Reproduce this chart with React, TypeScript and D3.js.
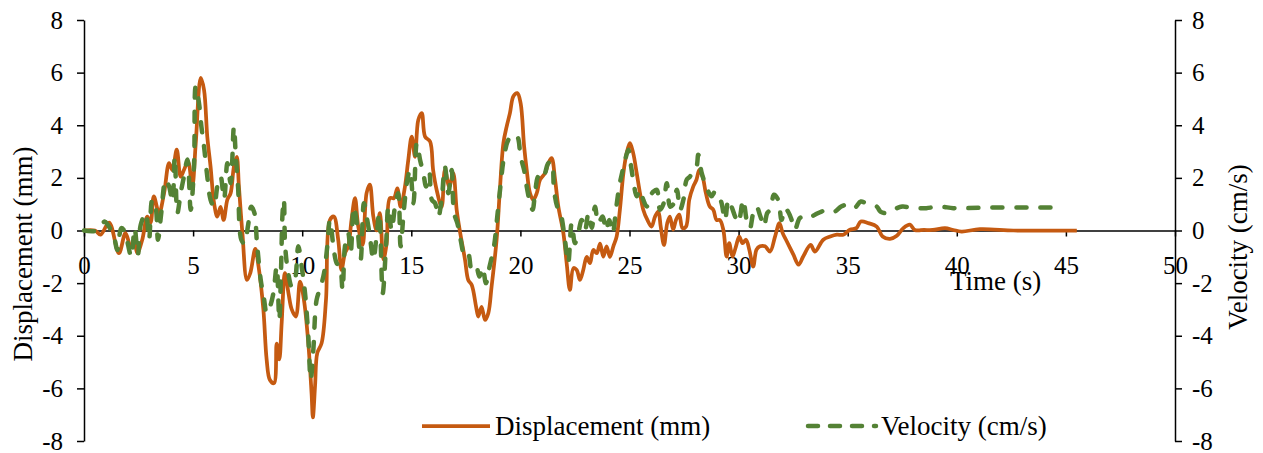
import React, { useEffect, useRef } from 'react';
import * as d3 from 'd3';

// displacement (mm)
const dispTime = [
  0, 0.5, 0.76, 1.15, 1.6, 1.9, 2.14, 2.3, 2.44, 2.67, 2.9, 3.05, 3.2, 3.44, 3.67, 3.9, 4.05, 4.25, 4.43, 4.58,
  4.77, 4.96, 5.12, 5.35, 5.5, 5.65, 5.8, 5.96, 6.11, 6.26, 6.4, 6.57, 6.72, 6.87, 7.0, 7.1, 7.26, 7.47, 7.62, 7.85,
  8.0, 8.22, 8.37, 8.52, 8.71, 8.83, 8.95, 9.06, 9.21, 9.37, 9.52, 9.71, 9.9, 10.08, 10.28, 10.43, 10.49, 10.59, 10.69, 10.89,
  11.09, 11.27, 11.45, 11.65, 11.8, 11.96, 12.11, 12.26, 12.42, 12.57, 12.77, 12.95, 13.1, 13.26, 13.41, 13.56, 13.72, 13.87, 14.02, 14.2,
  14.36, 14.51, 14.71, 14.85, 15.02, 15.17, 15.32, 15.48, 15.63, 15.86, 16.0, 16.16, 16.39, 16.54, 16.74, 16.92, 17.08, 17.23, 17.46, 17.61,
  17.77, 17.97, 18.07, 18.22, 18.38, 18.53, 18.68, 18.91, 19.06, 19.22, 19.37, 19.52, 19.68, 19.86, 20.01, 20.17, 20.29, 20.44, 20.59, 20.75,
  20.9, 21.13, 21.28, 21.43, 21.59, 21.74, 21.97, 22.12, 22.27, 22.43, 22.58, 22.73, 22.88, 23.04, 23.19, 23.34, 23.5, 23.65, 23.8, 23.95,
  24.1, 24.26, 24.41, 24.56, 24.72, 24.87, 25.02, 25.17, 25.33, 25.48, 25.63, 25.82, 26.01, 26.17, 26.32, 26.43, 26.58, 26.73, 26.85, 27.0,
  27.13, 27.28, 27.43, 27.59, 27.74, 27.92, 28.07, 28.2, 28.35, 28.5, 28.68, 28.84, 28.99, 29.14, 29.3, 29.45, 29.57, 29.72, 29.88, 30.03,
  30.18, 30.34, 30.49, 30.67, 30.82, 30.98, 31.21, 31.44, 31.67, 31.87, 32.02, 32.2, 32.5, 32.75, 32.96, 33.3, 33.5, 33.88, 34.2, 34.5,
  34.8, 35.1, 35.4, 35.6, 35.95, 36.33, 36.6, 36.94, 37.25, 37.55, 37.85, 38.08, 38.5, 38.9, 39.46, 39.84, 40.22, 41.06, 42.6, 44.1,
  45.5,
];
const dispValue = [
  0, 0, -0.16, 0.3, -0.86, -0.1, -0.6, -0.4, -0.86, -0.35, 0.53, 0.3, 1.3, 0.66, 1.42, 2.56, 2.3, 3.07, 2.05, 2.3,
  2.62, 1.67, 3.3, 5.8, 5.35, 3.57, 2.43, 1.04, 0.53, 0.9, 0.4, 1.17, 1.42, 2.43, 2.8, 1.67, -0.1, -1.88, -1.62, -0.7,
  -1.37, -3.0, -4.9, -5.68, -5.8, -4.3, -4.9, -3.5, -1.62, -2.38, -3.0, -3.27, -1.94, -2.64, -4.28, -6.2, -7.1, -5.9, -4.66, -4.28,
  -2.64, 0.4, 0.53, -0.35, -1.5, -0.86, -0.6, 0.4, 1.23, 0.15, -0.55, 1.42, 1.74, 0.53, 0.0, 0.66, -1.1, -0.48, 1.23, 1.23,
  1.6, 0.9, 1.67, 2.6, 3.57, 2.8, 4.2, 4.46, 3.57, 3.38, 2.3, 1.55, 0.9, 2.3, 1.67, 2.18, 0.78, -0.04, -1.1, -1.88,
  -2.07, -2.9, -3.27, -2.9, -3.4, -3.14, -2.13, -0.35, 1.55, 3.32, 3.95, 4.46, 5.1, 5.22, 4.84, 3.2, 2.3, 1.42, 1.17, 1.42,
  1.93, 2.18, 2.56, 2.75, 1.93, 0.9, -0.1, -1.24, -2.26, -1.43, -1.5, -1.88, -1.5, -1.0, -1.24, -0.74, -0.86, -0.5, -0.99, -0.6,
  -1.0, -0.6, -0.23, 0.79, 2.18, 2.94, 3.32, 2.94, 2.18, 1.42, 0.79, 0.4, 0.15, 0.53, 0.72, 0.15, -0.55, 0.28, 0.53, 0.03,
  0.4, 0.6, 0.09, 0.15, 1.17, 1.67, 1.93, 2.3, 2.05, 1.42, 0.91, 0.79, 0.4, 0.4, 0.03, -0.99, -0.48, -0.99, -0.6, -0.23,
  -0.48, -0.35, -0.73, -1.37, -0.73, -0.6, -0.6, -0.8, -0.23, 0.28, -0.1, -0.4, -0.9, -1.3, -0.99, -0.55, -0.8, -0.35, -0.23, -0.16,
  -0.16, 0.03, 0.09, 0.34, 0.28, 0.15, -0.23, -0.32, -0.2, 0.09, 0.22, 0.02, 0.02, 0.02, 0.09, 0.02, -0.04, 0.05, 0, 0,
  0,
];

// velocity (cm/s)
const velTime = [
  0, 0.6, 0.95, 1.1, 1.37, 1.53, 1.71, 1.91, 2.02, 2.17, 2.32, 2.47, 2.6, 2.83, 2.98, 3.13, 3.28, 3.39, 3.54, 3.74,
  3.9, 4.05, 4.16, 4.28, 4.43, 4.58, 4.74, 4.89, 5.04, 5.12, 5.27, 5.38, 5.5, 5.65, 5.8, 5.96, 6.11, 6.26, 6.42, 6.57,
  6.72, 6.87, 6.95, 7.06, 7.21, 7.35, 7.52, 7.66, 7.8, 7.93, 8.1, 8.25, 8.37, 8.52, 8.68, 8.83, 8.95, 9.03, 9.1, 9.16,
  9.22, 9.36, 9.52, 9.67, 9.82, 9.98, 10.13, 10.28, 10.39, 10.51, 10.66, 10.85, 11.0, 11.15, 11.27, 11.45, 11.58, 11.73, 11.85, 11.96,
  12.11, 12.22, 12.37, 12.53, 12.68, 12.83, 12.98, 13.1, 13.26, 13.41, 13.53, 13.69, 13.84, 13.95, 14.1, 14.25, 14.4, 14.51, 14.66, 14.82,
  14.94, 15.1, 15.25, 15.4, 15.55, 15.68, 15.83, 15.94, 16.09, 16.24, 16.39, 16.54, 16.7, 16.85, 16.96, 17.11, 17.26, 17.46, 17.61, 17.77,
  17.97, 18.12, 18.27, 18.42, 18.58, 18.79, 18.94, 19.1, 19.25, 19.45, 19.68, 19.86, 20.01, 20.17, 20.29, 20.41, 20.56, 20.67, 20.82, 20.98,
  21.13, 21.28, 21.43, 21.54, 21.69, 21.84, 22.04, 22.19, 22.35, 22.5, 22.65, 22.81, 22.96, 23.12, 23.27, 23.42, 23.57, 23.77, 23.92, 24.07,
  24.23, 24.38, 24.53, 24.69, 24.84, 24.95, 25.05, 25.17, 25.33, 25.48, 25.63, 25.79, 25.94, 26.1, 26.25, 26.4, 26.55, 26.71, 26.86, 27.01,
  27.17, 27.32, 27.47, 27.62, 27.77, 27.92, 28.07, 28.15, 28.31, 28.46, 28.61, 28.76, 28.92, 29.07, 29.22, 29.38, 29.53, 29.68, 29.84, 29.99,
  30.21, 30.37, 30.52, 30.67, 30.82, 31.0, 31.16, 31.31, 31.46, 31.62, 31.81, 31.97, 32.12, 32.28, 32.43, 32.58, 32.8, 33.0, 33.2, 33.5,
  33.8, 34.1, 34.4, 34.7, 35.0, 35.3, 35.6, 35.95, 36.33, 36.5, 36.8, 37.1, 37.5, 38.0, 38.6, 39.2, 39.84, 40.45, 41.4, 42.6,
  43.8, 44.85,
];
const velValue = [
  0, 0, 0.34, 0.2, -0.23, -0.74, 0.09, -0.1, -0.55, -1.0, 0.09, -0.92, 0.22, 0.66, -0.35, 1.17, 0.9, -0.35, 0.66, 1.93,
  1.67, 1.1, 2.8, 0.66, 1.42, 2.05, 2.7, 0.79, 2.43, 5.48, 4.84, 3.95, 3.2, 2.05, 1.17, 0.9, 1.67, 2.05, 1.2, 2.56,
  1.8, 3.95, 2.94, 1.67, -0.35, -0.5, 0.2, 0.9, 0.7, -0.5, -1.88, -2.6, -3.14, -2.9, -2.38, -1.37, -3.4, -1.5, 0.66, 1.17,
  -0.6, -1.62, -2.13, -1.88, -0.6, -1.4, -2.38, -4.03, -5.68, -4.54, -2.64, -2.13, -1.62, -0.6, 0.4, -0.74, -1.24, -1.37, -2.26, -0.6,
  -0.1, -0.86, 0.9, 0.1, -1.1, 1.04, 0.4, -0.2, -1.1, -0.2, 0.66, -2.38, -0.6, 0.9, 0.0, 0.9, 1.42, -0.6, 0.79, 1.93,
  2.3, 1.04, 3.32, 2.69, 2.18, 1.67, 2.18, 1.17, 1.04, 0.53, 1.17, 2.43, 1.42, 2.3, 0.66, 0.28, -0.35, -1.0, -0.9, -1.5,
  -1.37, -1.75, -1.4, -2.0, -1.4, -0.6, 0.53, 1.8, 2.8, 3.45, 3.64, 3.57, 2.8, 2.3, 1.67, 1.17, 0.79, 1.42, 2.05, 1.93,
  2.18, 2.56, 2.6, 1.55, 0.9, 0.66, -0.35, -1.24, 0.28, -0.48, -0.1, 0.4, 0.0, 0.66, 0.1, 0.9, 0.28, 0.53, 0.0, 0.4,
  -0.1, 0.79, 1.67, 2.3, 2.81, 3.07, 2.56, 1.93, 1.3, 1.55, 1.17, 0.91, 1.3, 1.48, 1.55, 0.79, 1.0, 1.8, 0.91, 1.0,
  1.55, 0.79, 1.17, 1.93, 2.05, 2.3, 2.43, 2.88, 2.18, 1.8, 1.48, 1.3, 1.48, 1.36, 1.04, 0.4, 1.17, 0.9, 0.53, 0.3,
  1.17, 0.4, 0.09, 0.66, 0.91, 0.53, 0.15, 0.66, 0.8, 1.36, 1.17, 0.4, 0.85, 0.7, 0.4, 0.03, 0.47, 0.53, 0.47, 0.6,
  0.72, 0.79, 0.72, 0.91, 0.98, 0.85, 1.1, 0.98, 0.91, 0.72, 0.66, 0.79, 0.91, 0.85, 0.85, 0.91, 0.85, 0.85, 0.87, 0.87,
  0.87, 0.87,
];

const xTicks = [0, 5, 10, 15, 20, 25, 30, 35, 40, 45, 50];
const yTicks = [-8, -6, -4, -2, 0, 2, 4, 6, 8];

const FONT = "'Liberation Serif', 'Times New Roman', serif";
const ORANGE = '#C55A11';
const GREEN = '#548235';

const App: React.FC = () => {
  const svgRef = useRef<SVGSVGElement | null>(null);

  useEffect(() => {
    if (!svgRef.current) return;
    const svg = d3.select(svgRef.current);
    svg.selectAll('*').remove();

    const x = d3.scaleLinear().domain([0, 50]).range([84, 1175]);
    const yL = d3.scaleLinear().domain([-8, 8]).range([441, 20]);
    const yR = d3.scaleLinear().domain([-8, 8]).range([441, 20]);

    const styleAxis = (g: any, size: number) => {
      g.attr('font-family', null).attr('font-size', null);
      g.selectAll('path,line').attr('stroke', '#000').attr('stroke-width', 1.5);
      g.selectAll('text').attr('fill', '#000').style('font-family', FONT).style('font-size', `${size}px`);
    };

    svg.append('g')
      .attr('transform', `translate(84,0)`)
      .call(d3.axisLeft(yL).tickValues(yTicks).tickSize(7).tickSizeOuter(0).tickPadding(14).tickFormat((d: any) => String(d)))
      .call((g: any) => styleAxis(g, 25));

    svg.append('g')
      .attr('transform', `translate(1175,0)`)
      .call(d3.axisRight(yR).tickValues(yTicks).tickSize(7).tickSizeOuter(0).tickPadding(10).tickFormat((d: any) => String(d)))
      .call((g: any) => styleAxis(g, 25));

    svg.append('g')
      .attr('transform', `translate(0,${yL(0)})`)
      .call(d3.axisBottom(x).tickValues(xTicks).tickSize(6).tickSizeOuter(0).tickPadding(20).tickFormat((d: any) => String(d)))
      .call((g: any) => styleAxis(g, 25));

    const dispData = dispTime.map((t, i) => [t, dispValue[i]] as [number, number]);
    const velData = velTime.map((t, i) => [t, velValue[i]] as [number, number]);

    const dispLine = d3.line<[number, number]>()
      .x(d => x(d[0]))
      .y(d => yL(d[1]))
      .curve(d3.curveCatmullRom.alpha(0.5));
    const velLine = d3.line<[number, number]>()
      .x(d => x(d[0]))
      .y(d => yR(d[1]))
      .curve(d3.curveCatmullRom.alpha(0.5));

    svg.append('path')
      .datum(dispData)
      .attr('fill', 'none')
      .attr('stroke', ORANGE)
      .attr('stroke-width', 3.75)
      .attr('stroke-linejoin', 'round')
      .attr('d', dispLine);

    svg.append('path')
      .datum(velData)
      .attr('fill', 'none')
      .attr('stroke', GREEN)
      .attr('stroke-width', 4.5)
      .attr('stroke-dasharray', '10 14')
      .attr('stroke-linecap', 'round')
      .attr('d', velLine);

    const addText = (sel: any, size: number) =>
      sel.style('font-family', FONT).style('font-size', `${size}px`).attr('fill', '#000');

    // axis titles
    addText(svg.append('text')
      .attr('transform', 'translate(23,254) rotate(-90)')
      .attr('text-anchor', 'middle')
      .attr('dy', '0.35em')
      .text('Displacement (mm)'), 27);

    addText(svg.append('text')
      .attr('transform', 'translate(1238,247) rotate(-90)')
      .attr('text-anchor', 'middle')
      .attr('dy', '0.35em')
      .text('Velocity (cm/s)'), 27);

    addText(svg.append('text')
      .attr('x', 950)
      .attr('y', 290)
      .text('Time (s)'), 27);

    // legend
    const legend = [
      { label: 'Displacement (mm)', color: ORANGE, dash: null, x0: 422 },
      { label: 'Velocity (cm/s)', color: GREEN, dash: '10 12', x0: 808 },
    ];
    const lg = svg.append('g');
    legend.forEach(item => {
      lg.append('line')
        .attr('x1', item.x0).attr('x2', item.x0 + 68)
        .attr('y1', 426).attr('y2', 426)
        .attr('stroke', item.color)
        .attr('stroke-width', item.dash ? 4.5 : 3.75)
        .attr('stroke-linecap', item.dash ? 'round' : 'butt')
        .attr('stroke-dasharray', item.dash);
      addText(lg.append('text')
        .attr('x', item.x0 + 73)
        .attr('y', 426)
        .attr('dy', '0.35em')
        .text(item.label), 27);
    });
  }, []);

  return (
    <svg
      ref={svgRef}
      width={1263}
      height={453}
      style={{ position: 'absolute', left: 0, top: 0, background: '#fff' }}
    />
  );
};

export default App;
